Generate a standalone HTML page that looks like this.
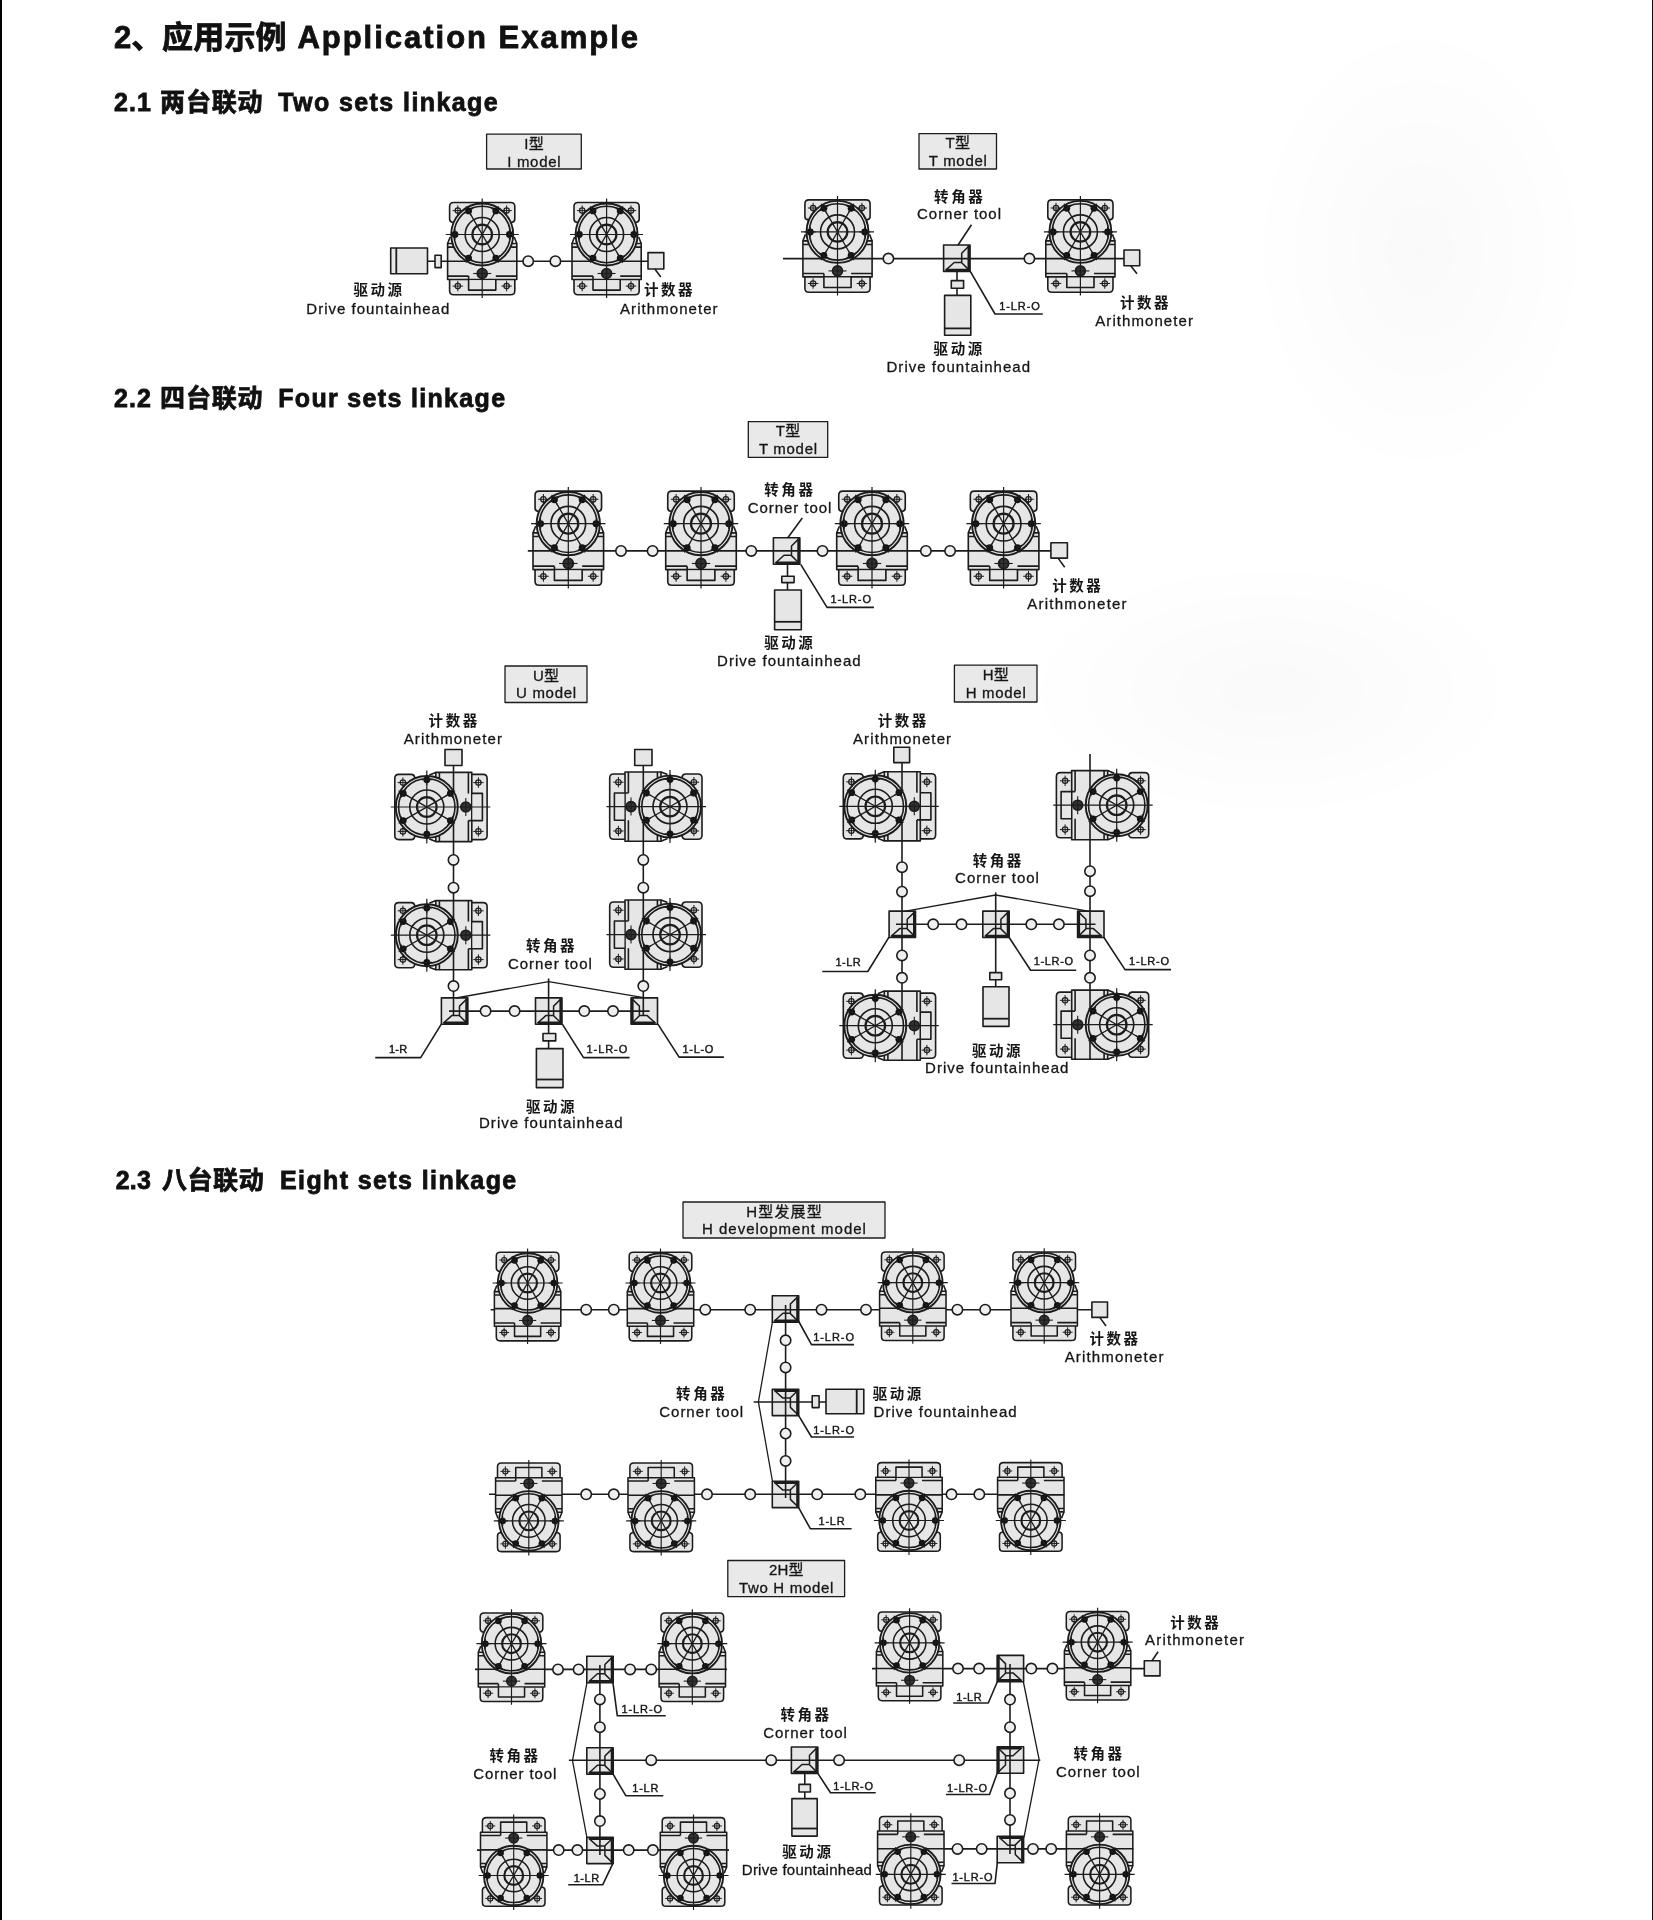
<!DOCTYPE html>
<html lang="zh"><head><meta charset="utf-8"><title>应用示例 Application Example</title>
<style>
html,body{margin:0;padding:0;background:#fff}
body{width:1653px;height:1920px;position:relative;overflow:hidden;font-family:'Liberation Sans','Noto Sans CJK SC',sans-serif}
.bl{position:absolute;left:0;top:0;width:1.6px;height:1920px;background:#000}
.br{position:absolute;right:0;top:0;width:1.3px;height:1920px;background:#111}
text.b{stroke:#161616;stroke-width:.3px}
text.c{stroke:#161616;stroke-width:.4px}
text.h{stroke:#111;stroke-width:.8px;fill:#111}
svg{position:absolute;left:0;top:0;display:block;filter:grayscale(1) blur(.4px)}
</style></head><body>
<svg width="1653" height="1920" viewBox="0 0 1653 1920"><defs><radialGradient id="sm"><stop offset="0" stop-color="#000" stop-opacity=".022"/><stop offset="1" stop-color="#000" stop-opacity="0"/></radialGradient><g id="drv" stroke-width="1.6"><path d="M-32.6,-15.5V-28Q-32.6,-32 -28.6,-32H28.6Q32.6,-32 32.6,-28V-15.5Q32.6,-12.5 29.3,-12L27,-10H-27L-29.3,-12Q-32.6,-12.5 -32.6,-15.5Z" fill="#e6e6e6"/><path d="M-32.6,44V56.3Q-32.6,60.3 -28.6,60.3H28.6Q32.6,60.3 32.6,56.3V44Z" fill="#e6e6e6"/><path d="M-34.6,9H34.6V45H-34.6Z" fill="#e6e6e6"/><path d="M-34.6,12.6H-29M29,12.6H34.6M-34.6,41.6H-13.6M13.6,41.6H34.6M-32,2.5L-34.6,9M32,2.5L34.6,9" fill="none"/><path d="M-13.6,42.3V55.6H13.6V45.7H-13.6" fill="#e6e6e6" stroke="none"/><path d="M-13.6,41.6V55.6H13.6V45" fill="none"/><path d="M-34.6,26.7H34.6" fill="none"/><circle cx="-24.4" cy="-23.9" r="2.7" fill="none" stroke-width="1.2"/><path d="M-29.599999999999998,-23.9H-19.2M-24.4,-29.099999999999998V-18.7" stroke-width="1"/><circle cx="24.4" cy="-23.9" r="2.7" fill="none" stroke-width="1.2"/><path d="M19.2,-23.9H29.599999999999998M24.4,-29.099999999999998V-18.7" stroke-width="1"/><circle cx="-24.4" cy="51.6" r="2.7" fill="none" stroke-width="1.2"/><path d="M-29.599999999999998,51.6H-19.2M-24.4,46.4V56.800000000000004" stroke-width="1"/><circle cx="24.4" cy="51.6" r="2.7" fill="none" stroke-width="1.2"/><path d="M19.2,51.6H29.599999999999998M24.4,46.4V56.800000000000004" stroke-width="1"/><circle cx="0" cy="39" r="5" fill="#333"/><path d="M-9,39H9" stroke-width="1.1"/><circle r="31" fill="#e6e6e6" stroke-width="1.9"/><circle r="28.2" fill="none" stroke-width="1.6"/><circle r="17" fill="none" stroke-width="1.6"/><circle r="9.8" fill="none" stroke-width="2.2"/><path d="M0,-36V63.5M-36.5,0H36.5" stroke-width="1.2"/><path d="M-13.60,-23.56L13.60,23.56M13.60,-23.56L-13.60,23.56" stroke-width="1.3"/><circle cx="27.20" cy="0.00" r="3.4" fill="#111" stroke="none"/><path d="M21.80,0.00L32.60,0.00M27.20,-5.20L27.20,5.20" stroke-width="1.1"/><circle cx="13.60" cy="23.56" r="3.4" fill="#111" stroke="none"/><path d="M10.90,18.88L16.30,28.23M18.10,20.96L9.10,26.16" stroke-width="1.1"/><circle cx="-13.60" cy="23.56" r="3.4" fill="#111" stroke="none"/><path d="M-10.90,18.88L-16.30,28.23M-9.10,26.16L-18.10,20.96" stroke-width="1.1"/><circle cx="-27.20" cy="0.00" r="3.4" fill="#111" stroke="none"/><path d="M-21.80,0.00L-32.60,0.00M-27.20,5.20L-27.20,-5.20" stroke-width="1.1"/><circle cx="-13.60" cy="-23.56" r="3.4" fill="#111" stroke="none"/><path d="M-10.90,-18.88L-16.30,-28.23M-18.10,-20.96L-9.10,-26.16" stroke-width="1.1"/><circle cx="13.60" cy="-23.56" r="3.4" fill="#111" stroke="none"/><path d="M10.90,-18.88L16.30,-28.23M9.10,-26.16L18.10,-20.96" stroke-width="1.1"/></g><g id="ct" stroke-width="1.6"><rect x="-13.2" y="-13.2" width="26.4" height="26.4" fill="#e6e6e6"/><path d="M12.4,-12.4L4.9,-5V4.6L12.6,12.2M-11.3,12.2L-2.6,4.3H4.9" fill="none" stroke-width="1.5"/><path d="M12.1,-12.6V13M-10.8,11.9H13" fill="none" stroke-width="2.8"/></g></defs><ellipse cx="1270" cy="690" rx="250" ry="130" fill="url(#sm)"/><ellipse cx="1420" cy="250" rx="170" ry="230" fill="url(#sm)"/><g stroke="#1c1c1c" fill="none" stroke-linejoin="round"><use href="#ct" transform="translate(956.8,258.2)"/>
<use href="#ct" transform="translate(786.6,551.0)"/>
<use href="#ct" transform="translate(454.6,1011.1)"/>
<use href="#ct" transform="translate(548.7,1011.1)"/>
<use href="#ct" transform="translate(644.3,1011.1) scale(-1,1)"/>
<use href="#ct" transform="translate(902.3,924.3)"/>
<use href="#ct" transform="translate(996.0,924.3)"/>
<use href="#ct" transform="translate(1090.8,924.3) scale(-1,1)"/>
<use href="#ct" transform="translate(785.5,1309.0)"/>
<use href="#ct" transform="translate(785.5,1402.4) scale(1,-1)"/>
<use href="#ct" transform="translate(785.5,1494.4) scale(1,-1)"/>
<use href="#ct" transform="translate(600.0,1669.5)"/>
<use href="#ct" transform="translate(600.0,1761.0)"/>
<use href="#ct" transform="translate(600.0,1850.4) scale(1,-1)"/>
<use href="#ct" transform="translate(804.6,1760.2)"/>
<use href="#ct" transform="translate(1010.4,1668.6) scale(-1,1)"/>
<use href="#ct" transform="translate(1010.4,1760.0) scale(-1,-1)"/>
<use href="#ct" transform="translate(1010.4,1849.5) scale(1,-1)"/><rect x="486.6" y="134.2" width="94.7" height="34.8" fill="#e9e9e9" stroke-width="1.3"/>
<path d="M427.5,261.2L648.0,261.2" stroke-width="1.6"/>
<rect x="390.7" y="248.0" width="36.8" height="25.8" fill="#e6e6e6" stroke-width="1.6"/>
<path d="M396.3,248.0L396.3,273.8" stroke-width="1.8"/>
<rect x="435.0" y="255.3" width="6.2" height="12.3" fill="#e6e6e6" stroke-width="1.6"/>
<use href="#drv" transform="translate(482.2,234.5)"/>
<use href="#drv" transform="translate(606.6,234.5)"/>
<circle cx="528.2" cy="261.2" r="5.2" fill="#efefef" stroke-width="1.6"/>
<circle cx="555.4" cy="261.2" r="5.2" fill="#efefef" stroke-width="1.6"/>
<rect x="648.0" y="252.6" width="15.8" height="16.4" fill="#e6e6e6" stroke-width="1.6"/>
<path d="M654.8,269.0L660.8,277.0" stroke-width="1.6"/>
<rect x="919.0" y="133.6" width="77.5" height="35.4" fill="#e9e9e9" stroke-width="1.3"/>
<path d="M783.0,258.6L1124.0,258.6" stroke-width="1.6"/>
<use href="#drv" transform="translate(837.5,231.9)"/>
<use href="#drv" transform="translate(1080.4,231.9)"/>
<circle cx="888.4" cy="258.6" r="5.2" fill="#efefef" stroke-width="1.6"/>
<circle cx="1029.4" cy="258.6" r="5.2" fill="#efefef" stroke-width="1.6"/>
<path d="M957.0,271.0L957.0,296.0" stroke-width="1.6"/>
<path d="M971.5,224.8L957.9,245.2" stroke-width="1.6"/>
<rect x="951.3" y="280.6" width="12.3" height="7.6" fill="#e6e6e6" stroke-width="1.6"/>
<rect x="944.6" y="295.4" width="26.2" height="39.8" fill="#e6e6e6" stroke-width="1.6"/>
<path d="M944.6,328.4L970.8,328.4" stroke-width="1.8"/>
<path d="M970.0,270.8L995.0,314.0L1042.8,314.0" fill="none" stroke-width="1.6"/>
<rect x="1124.0" y="250.0" width="15.7" height="15.7" fill="#e6e6e6" stroke-width="1.6"/>
<path d="M1130.7,265.7L1137.0,273.8" stroke-width="1.6"/>
<rect x="748.3" y="421.7" width="79.4" height="35.6" fill="#e9e9e9" stroke-width="1.3"/>
<path d="M527.8,550.9L1051.0,550.9" stroke-width="1.6"/>
<use href="#drv" transform="translate(568.3,523.7) scale(1.02)"/>
<use href="#drv" transform="translate(701.0,523.7) scale(1.02)"/>
<use href="#drv" transform="translate(872.0,523.7) scale(1.02)"/>
<use href="#drv" transform="translate(1003.6,523.7) scale(1.02)"/>
<circle cx="621.0" cy="550.9" r="5.2" fill="#efefef" stroke-width="1.6"/>
<circle cx="652.6" cy="550.9" r="5.2" fill="#efefef" stroke-width="1.6"/>
<circle cx="751.3" cy="550.9" r="5.2" fill="#efefef" stroke-width="1.6"/>
<circle cx="822.5" cy="550.9" r="5.2" fill="#efefef" stroke-width="1.6"/>
<circle cx="925.9" cy="550.9" r="5.2" fill="#efefef" stroke-width="1.6"/>
<circle cx="950.1" cy="550.9" r="5.2" fill="#efefef" stroke-width="1.6"/>
<path d="M787.5,564.0L787.5,590.0" stroke-width="1.6"/>
<path d="M802.3,518.0L788.0,537.5" stroke-width="1.6"/>
<rect x="781.8" y="576.2" width="12.3" height="6.4" fill="#e6e6e6" stroke-width="1.6"/>
<rect x="774.6" y="590.0" width="26.7" height="39.7" fill="#e6e6e6" stroke-width="1.6"/>
<path d="M774.6,621.8L801.3,621.8" stroke-width="1.8"/>
<path d="M800.7,564.3L827.0,607.4L874.0,607.4" fill="none" stroke-width="1.6"/>
<rect x="1050.9" y="542.7" width="16.5" height="15.4" fill="#e6e6e6" stroke-width="1.6"/>
<path d="M1058.1,558.1L1064.7,567.3" stroke-width="1.6"/>
<rect x="505.0" y="666.0" width="82.0" height="36.5" fill="#e9e9e9" stroke-width="1.3"/>
<path d="M453.5,765.5L453.5,1015.1" stroke-width="1.6"/>
<path d="M643.3,765.5L643.3,1015.1" stroke-width="1.6"/>
<rect x="445.0" y="749.5" width="17.0" height="16.0" fill="#e6e6e6" stroke-width="1.6"/>
<rect x="634.7" y="749.5" width="17.3" height="16.0" fill="#e6e6e6" stroke-width="1.6"/>
<use href="#drv" transform="translate(426.8,807.0) rotate(-90)"/>
<use href="#drv" transform="translate(670.0,806.6) rotate(90)"/>
<use href="#drv" transform="translate(426.8,935.2) rotate(-90)"/>
<use href="#drv" transform="translate(670.0,934.6) rotate(90)"/>
<circle cx="453.5" cy="859.9" r="5.2" fill="#efefef" stroke-width="1.6"/>
<circle cx="643.3" cy="859.9" r="5.2" fill="#efefef" stroke-width="1.6"/>
<circle cx="453.5" cy="887.7" r="5.2" fill="#efefef" stroke-width="1.6"/>
<circle cx="643.3" cy="887.7" r="5.2" fill="#efefef" stroke-width="1.6"/>
<circle cx="453.5" cy="986.1" r="5.2" fill="#efefef" stroke-width="1.6"/>
<circle cx="643.3" cy="986.1" r="5.2" fill="#efefef" stroke-width="1.6"/>
<path d="M449.0,1011.1L649.6,1011.1" stroke-width="1.6"/>
<path d="M548.6,978.5L548.6,1048.6" stroke-width="1.6"/>
<circle cx="485.6" cy="1011.1" r="5.2" fill="#efefef" stroke-width="1.6"/>
<circle cx="514.6" cy="1011.1" r="5.2" fill="#efefef" stroke-width="1.6"/>
<circle cx="584.3" cy="1011.1" r="5.2" fill="#efefef" stroke-width="1.6"/>
<circle cx="613.0" cy="1011.1" r="5.2" fill="#efefef" stroke-width="1.6"/>
<path d="M456.0,998.0L548.6,981.6L643.7,997.6" fill="none" stroke-width="1.4"/>
<rect x="543.0" y="1033.5" width="12.7" height="7.4" fill="#e6e6e6" stroke-width="1.6"/>
<rect x="536.4" y="1048.6" width="26.6" height="39.0" fill="#e6e6e6" stroke-width="1.6"/>
<path d="M536.4,1079.5L563.0,1079.5" stroke-width="1.8"/>
<path d="M441.3,1024.1L420.7,1057.6L375.2,1057.6" fill="none" stroke-width="1.6"/>
<path d="M562.3,1024.1L583.5,1057.6L629.6,1057.6" fill="none" stroke-width="1.6"/>
<path d="M657.9,1024.1L679.1,1057.1L723.9,1057.1" fill="none" stroke-width="1.6"/>
<rect x="954.4" y="665.2" width="82.6" height="36.8" fill="#e9e9e9" stroke-width="1.3"/>
<path d="M902.0,762.6L902.0,1060.0" stroke-width="1.6"/>
<path d="M1090.0,753.9L1090.0,1060.0" stroke-width="1.6"/>
<rect x="893.8" y="747.3" width="15.8" height="15.3" fill="#e6e6e6" stroke-width="1.6"/>
<use href="#drv" transform="translate(875.3,806.3) rotate(-90)"/>
<use href="#drv" transform="translate(1116.7,805.2) rotate(90)"/>
<use href="#drv" transform="translate(875.3,1025.7) rotate(-90)"/>
<use href="#drv" transform="translate(1116.7,1024.7) rotate(90)"/>
<circle cx="902.0" cy="867.2" r="5.2" fill="#efefef" stroke-width="1.6"/>
<circle cx="902.0" cy="891.7" r="5.2" fill="#efefef" stroke-width="1.6"/>
<circle cx="902.0" cy="955.4" r="5.2" fill="#efefef" stroke-width="1.6"/>
<circle cx="902.0" cy="977.8" r="5.2" fill="#efefef" stroke-width="1.6"/>
<circle cx="1090.0" cy="871.2" r="5.2" fill="#efefef" stroke-width="1.6"/>
<circle cx="1090.0" cy="891.2" r="5.2" fill="#efefef" stroke-width="1.6"/>
<circle cx="1090.0" cy="955.4" r="5.2" fill="#efefef" stroke-width="1.6"/>
<circle cx="1090.0" cy="977.8" r="5.2" fill="#efefef" stroke-width="1.6"/>
<path d="M896.0,924.3L1095.5,924.3" stroke-width="1.6"/>
<path d="M995.7,892.4L995.7,986.8" stroke-width="1.6"/>
<circle cx="933.2" cy="924.3" r="5.2" fill="#efefef" stroke-width="1.6"/>
<circle cx="961.5" cy="924.3" r="5.2" fill="#efefef" stroke-width="1.6"/>
<circle cx="1031.3" cy="924.3" r="5.2" fill="#efefef" stroke-width="1.6"/>
<circle cx="1058.9" cy="924.3" r="5.2" fill="#efefef" stroke-width="1.6"/>
<path d="M904.4,911.3L995.7,895.0L1089.6,911.3" fill="none" stroke-width="1.3"/>
<rect x="989.8" y="972.6" width="11.8" height="7.2" fill="#e6e6e6" stroke-width="1.6"/>
<rect x="983.0" y="986.8" width="26.0" height="39.6" fill="#e6e6e6" stroke-width="1.6"/>
<path d="M983.0,1018.7L1009.0,1018.7" stroke-width="1.8"/>
<path d="M889.0,937.2L867.8,971.5L822.3,971.5" fill="none" stroke-width="1.6"/>
<path d="M1009.0,937.2L1030.6,970.3L1076.2,970.3" fill="none" stroke-width="1.6"/>
<path d="M1103.8,937.2L1125.0,969.6L1171.0,969.6" fill="none" stroke-width="1.6"/>
<rect x="683.0" y="1202.0" width="202.0" height="36.0" fill="#e9e9e9" stroke-width="1.3"/>
<path d="M490.6,1309.7L1092.0,1309.7" stroke-width="1.6"/>
<use href="#drv" transform="translate(527.6,1283.0) scale(0.96)"/>
<use href="#drv" transform="translate(660.5,1283.0) scale(0.96)"/>
<use href="#drv" transform="translate(912.8,1282.7) scale(0.96)"/>
<use href="#drv" transform="translate(1044.2,1282.7) scale(0.96)"/>
<circle cx="586.2" cy="1309.7" r="5.2" fill="#efefef" stroke-width="1.6"/>
<circle cx="613.8" cy="1309.7" r="5.2" fill="#efefef" stroke-width="1.6"/>
<circle cx="705.3" cy="1309.7" r="5.2" fill="#efefef" stroke-width="1.6"/>
<circle cx="750.2" cy="1309.7" r="5.2" fill="#efefef" stroke-width="1.6"/>
<circle cx="821.5" cy="1309.7" r="5.2" fill="#efefef" stroke-width="1.6"/>
<circle cx="866.0" cy="1309.7" r="5.2" fill="#efefef" stroke-width="1.6"/>
<circle cx="957.4" cy="1309.7" r="5.2" fill="#efefef" stroke-width="1.6"/>
<circle cx="985.2" cy="1309.7" r="5.2" fill="#efefef" stroke-width="1.6"/>
<path d="M785.6,1305.0L785.6,1498.0" stroke-width="1.6"/>
<circle cx="785.6" cy="1340.3" r="5.2" fill="#efefef" stroke-width="1.6"/>
<circle cx="785.6" cy="1367.4" r="5.2" fill="#efefef" stroke-width="1.6"/>
<circle cx="785.6" cy="1433.5" r="5.2" fill="#efefef" stroke-width="1.6"/>
<circle cx="785.6" cy="1460.9" r="5.2" fill="#efefef" stroke-width="1.6"/>
<path d="M753.7,1402.0L826.2,1402.0" stroke-width="1.6"/>
<rect x="812.2" y="1395.8" width="6.9" height="11.8" fill="#e6e6e6" stroke-width="1.6"/>
<rect x="826.0" y="1389.2" width="37.8" height="24.5" fill="#e6e6e6" stroke-width="1.6"/>
<path d="M856.7,1389.2L856.7,1413.7" stroke-width="1.8"/>
<path d="M772.6,1321.0L758.4,1401.8L772.6,1482.0" fill="none" stroke-width="1.3"/>
<path d="M798.5,1321.0L811.5,1344.6L854.0,1344.6" fill="none" stroke-width="1.6"/>
<path d="M798.5,1415.3L811.5,1437.0L854.0,1437.0" fill="none" stroke-width="1.6"/>
<rect x="1091.9" y="1302.0" width="15.6" height="15.4" fill="#e6e6e6" stroke-width="1.6"/>
<path d="M1099.7,1317.4L1106.0,1326.0" stroke-width="1.6"/>
<path d="M489.0,1494.3L1064.3,1494.3" stroke-width="1.6"/>
<use href="#drv" transform="translate(528.8,1520.9) scale(1,-1) scale(0.96)"/>
<use href="#drv" transform="translate(661.2,1520.9) scale(1,-1) scale(0.96)"/>
<use href="#drv" transform="translate(909.0,1520.5) scale(1,-1) scale(0.96)"/>
<use href="#drv" transform="translate(1030.8,1520.5) scale(1,-1) scale(0.96)"/>
<circle cx="586.2" cy="1494.3" r="5.2" fill="#efefef" stroke-width="1.6"/>
<circle cx="613.8" cy="1494.3" r="5.2" fill="#efefef" stroke-width="1.6"/>
<circle cx="707.0" cy="1494.3" r="5.2" fill="#efefef" stroke-width="1.6"/>
<circle cx="750.2" cy="1494.3" r="5.2" fill="#efefef" stroke-width="1.6"/>
<circle cx="817.2" cy="1494.3" r="5.2" fill="#efefef" stroke-width="1.6"/>
<circle cx="860.3" cy="1494.3" r="5.2" fill="#efefef" stroke-width="1.6"/>
<circle cx="951.5" cy="1494.3" r="5.2" fill="#efefef" stroke-width="1.6"/>
<circle cx="979.3" cy="1494.3" r="5.2" fill="#efefef" stroke-width="1.6"/>
<path d="M798.5,1507.4L810.3,1528.7L851.6,1528.7" fill="none" stroke-width="1.6"/>
<rect x="727.8" y="1560.5" width="116.8" height="36.1" fill="#e9e9e9" stroke-width="1.3"/>
<path d="M475.0,1669.4L727.0,1669.4" stroke-width="1.6"/>
<path d="M872.0,1668.6L1144.3,1668.6" stroke-width="1.6"/>
<use href="#drv" transform="translate(511.5,1643.7) scale(0.96)"/>
<use href="#drv" transform="translate(692.3,1643.7) scale(0.96)"/>
<use href="#drv" transform="translate(909.6,1642.8) scale(0.96)"/>
<use href="#drv" transform="translate(1097.6,1642.2) scale(0.96)"/>
<circle cx="558.0" cy="1669.4" r="5.2" fill="#efefef" stroke-width="1.6"/>
<circle cx="578.6" cy="1669.4" r="5.2" fill="#efefef" stroke-width="1.6"/>
<circle cx="630.1" cy="1669.4" r="5.2" fill="#efefef" stroke-width="1.6"/>
<circle cx="651.2" cy="1669.4" r="5.2" fill="#efefef" stroke-width="1.6"/>
<circle cx="958.0" cy="1668.6" r="5.2" fill="#efefef" stroke-width="1.6"/>
<circle cx="979.1" cy="1668.6" r="5.2" fill="#efefef" stroke-width="1.6"/>
<circle cx="1031.3" cy="1668.6" r="5.2" fill="#efefef" stroke-width="1.6"/>
<circle cx="1052.4" cy="1668.6" r="5.2" fill="#efefef" stroke-width="1.6"/>
<path d="M477.0,1850.1L729.0,1850.1" stroke-width="1.6"/>
<path d="M884.2,1848.9L1133.4,1848.9" stroke-width="1.6"/>
<use href="#drv" transform="translate(513.7,1875.5) scale(1,-1) scale(0.96)"/>
<use href="#drv" transform="translate(693.5,1875.5) scale(1,-1) scale(0.96)"/>
<use href="#drv" transform="translate(910.8,1874.3) scale(1,-1) scale(0.96)"/>
<use href="#drv" transform="translate(1099.6,1874.3) scale(1,-1) scale(0.96)"/>
<circle cx="558.7" cy="1850.1" r="5.2" fill="#efefef" stroke-width="1.6"/>
<circle cx="577.4" cy="1850.1" r="5.2" fill="#efefef" stroke-width="1.6"/>
<circle cx="628.7" cy="1850.1" r="5.2" fill="#efefef" stroke-width="1.6"/>
<circle cx="652.9" cy="1850.1" r="5.2" fill="#efefef" stroke-width="1.6"/>
<circle cx="957.5" cy="1848.9" r="5.2" fill="#efefef" stroke-width="1.6"/>
<circle cx="981.7" cy="1848.9" r="5.2" fill="#efefef" stroke-width="1.6"/>
<circle cx="1033.0" cy="1848.9" r="5.2" fill="#efefef" stroke-width="1.6"/>
<circle cx="1051.2" cy="1848.9" r="5.2" fill="#efefef" stroke-width="1.6"/>
<path d="M599.9,1665.0L599.9,1855.0" stroke-width="1.6"/>
<path d="M1010.0,1664.0L1010.0,1854.0" stroke-width="1.6"/>
<circle cx="599.9" cy="1699.4" r="5.2" fill="#efefef" stroke-width="1.6"/>
<circle cx="599.9" cy="1727.2" r="5.2" fill="#efefef" stroke-width="1.6"/>
<circle cx="599.9" cy="1794.0" r="5.2" fill="#efefef" stroke-width="1.6"/>
<circle cx="599.9" cy="1821.1" r="5.2" fill="#efefef" stroke-width="1.6"/>
<circle cx="1010.0" cy="1699.6" r="5.2" fill="#efefef" stroke-width="1.6"/>
<circle cx="1010.0" cy="1727.2" r="5.2" fill="#efefef" stroke-width="1.6"/>
<circle cx="1010.0" cy="1793.3" r="5.2" fill="#efefef" stroke-width="1.6"/>
<circle cx="1010.0" cy="1819.9" r="5.2" fill="#efefef" stroke-width="1.6"/>
<path d="M568.9,1760.2L1040.3,1760.2" stroke-width="1.6"/>
<circle cx="651.2" cy="1760.2" r="5.2" fill="#efefef" stroke-width="1.6"/>
<circle cx="771.2" cy="1760.2" r="5.2" fill="#efefef" stroke-width="1.6"/>
<circle cx="839.1" cy="1760.2" r="5.2" fill="#efefef" stroke-width="1.6"/>
<circle cx="959.2" cy="1760.2" r="5.2" fill="#efefef" stroke-width="1.6"/>
<path d="M804.8,1773.0L804.8,1799.0" stroke-width="1.6"/>
<rect x="1144.3" y="1660.7" width="15.7" height="15.2" fill="#e6e6e6" stroke-width="1.6"/>
<path d="M1158.1,1651.7L1152.0,1660.7" stroke-width="1.6"/>
<path d="M587.0,1682.4L572.5,1760.6L587.0,1838.0" fill="none" stroke-width="1.3"/>
<path d="M612.9,1682.4L617.3,1715.8L665.7,1715.8" fill="none" stroke-width="1.6"/>
<path d="M612.9,1773.9L625.8,1795.7L663.3,1795.7" fill="none" stroke-width="1.6"/>
<path d="M612.9,1863.4L602.8,1884.7L568.2,1884.7" fill="none" stroke-width="1.6"/>
<rect x="799.0" y="1784.4" width="11.4" height="7.6" fill="#e6e6e6" stroke-width="1.6"/>
<rect x="791.9" y="1798.6" width="25.3" height="37.5" fill="#e6e6e6" stroke-width="1.6"/>
<path d="M791.9,1828.5L817.2,1828.5" stroke-width="1.8"/>
<path d="M817.2,1772.4L830.5,1792.8L875.7,1792.8" fill="none" stroke-width="1.6"/>
<path d="M1023.3,1681.5L1039.1,1759.4L1024.0,1837.3" fill="none" stroke-width="1.3"/>
<path d="M997.4,1681.5L988.3,1703.0L953.2,1703.0" fill="none" stroke-width="1.6"/>
<path d="M997.4,1772.7L989.5,1794.5L945.9,1794.5" fill="none" stroke-width="1.6"/>
<path d="M997.4,1862.2L995.0,1883.5L951.5,1883.5" fill="none" stroke-width="1.6"/></g><g fill="#161616" font-family="'Liberation Sans','Noto Sans CJK SC',sans-serif"><text x="114.0" y="48.0" font-size="31" font-weight="700" class="h">2、</text>
<text x="162.0" y="48.0" font-size="31" font-weight="700" letter-spacing="0.200" class="h">应用示例</text>
<text x="297.4" y="48.0" font-size="31" font-weight="700" letter-spacing="1.983" class="h">Application Example</text>
<text x="114.0" y="110.7" font-size="25" font-weight="700" letter-spacing="1.067" class="h">2.1</text>
<text x="160.1" y="110.7" font-size="25" font-weight="700" letter-spacing="0.828" class="h">两台联动</text>
<text x="278.2" y="110.7" font-size="25" font-weight="700" letter-spacing="1.419" class="h">Two sets linkage</text>
<text x="114.0" y="406.9" font-size="25" font-weight="700" letter-spacing="1.067" class="h">2.2</text>
<text x="160.1" y="406.9" font-size="25" font-weight="700" letter-spacing="0.828" class="h">四台联动</text>
<text x="278.2" y="406.9" font-size="25" font-weight="700" letter-spacing="1.330" class="h">Four sets linkage</text>
<text x="115.8" y="1188.7" font-size="25" font-weight="700" letter-spacing="0.167" class="h">2.3</text>
<text x="162.0" y="1188.7" font-size="25" font-weight="700" letter-spacing="0.561" class="h">八台联动</text>
<text x="280.0" y="1188.7" font-size="25" font-weight="700" letter-spacing="1.390" class="h">Eight sets linkage</text>
<text x="524.3" y="148.9" font-size="15" letter-spacing="0.200" class="b">I型</text>
<text x="507.2" y="166.5" font-size="15" letter-spacing="0.700" class="b">I model</text>
<text x="353.4" y="295.1" font-size="14.5" font-weight="700" letter-spacing="2.550">驱动源</text>
<text x="306.3" y="313.8" font-size="15" letter-spacing="1.005" class="b">Drive fountainhead</text>
<text x="643.9" y="295.1" font-size="14.5" font-weight="700" letter-spacing="2.550">计数器</text>
<text x="620.0" y="313.8" font-size="15" letter-spacing="1.066" class="b">Arithmoneter</text>
<text x="945.6" y="148.3" font-size="15" letter-spacing="0.200" class="b">T型</text>
<text x="928.7" y="165.9" font-size="15" letter-spacing="0.700" class="b">T model</text>
<text x="999.2" y="309.6" font-size="11" letter-spacing="0.907" class="c">1-LR-O</text>
<text x="934.1" y="201.9" font-size="14.5" font-weight="700" letter-spacing="2.550">转角器</text>
<text x="917.0" y="219.4" font-size="15" letter-spacing="0.980" class="b">Corner tool</text>
<text x="1119.9" y="307.9" font-size="14.5" font-weight="700" letter-spacing="2.550">计数器</text>
<text x="1095.3" y="326.0" font-size="15" letter-spacing="1.066" class="b">Arithmoneter</text>
<text x="933.6" y="353.9" font-size="14.5" font-weight="700" letter-spacing="2.550">驱动源</text>
<text x="886.5" y="371.8" font-size="15" letter-spacing="1.034" class="b">Drive fountainhead</text>
<text x="775.8" y="436.4" font-size="15" letter-spacing="0.200" class="b">T型</text>
<text x="758.9" y="454.0" font-size="15" letter-spacing="0.700" class="b">T model</text>
<text x="830.4" y="603.4" font-size="11" letter-spacing="0.908" class="c">1-LR-O</text>
<text x="764.3" y="495.1" font-size="14.5" font-weight="700" letter-spacing="2.550">转角器</text>
<text x="747.8" y="512.8" font-size="15" letter-spacing="0.930" class="b">Corner tool</text>
<text x="1052.2" y="590.7" font-size="14.5" font-weight="700" letter-spacing="2.550">计数器</text>
<text x="1027.3" y="608.5" font-size="15" letter-spacing="1.220" class="b">Arithmoneter</text>
<text x="764.2" y="648.3" font-size="14.5" font-weight="700" letter-spacing="2.550">驱动源</text>
<text x="717.0" y="666.0" font-size="15" letter-spacing="1.046" class="b">Drive fountainhead</text>
<text x="533.0" y="680.7" font-size="15" letter-spacing="0.200" class="b">U型</text>
<text x="516.0" y="698.3" font-size="15" letter-spacing="0.700" class="b">U model</text>
<text x="428.6" y="726.4" font-size="14.5" font-weight="700" letter-spacing="2.550">计数器</text>
<text x="403.7" y="743.8" font-size="15" letter-spacing="1.139" class="b">Arithmoneter</text>
<text x="388.9" y="1052.9" font-size="11" letter-spacing="0.333" class="c">1-R</text>
<text x="586.6" y="1052.9" font-size="11" letter-spacing="0.908" class="c">1-LR-O</text>
<text x="682.6" y="1052.5" font-size="11" letter-spacing="0.644" class="c">1-L-O</text>
<text x="525.9" y="951.3" font-size="14.5" font-weight="700" letter-spacing="2.550">转角器</text>
<text x="508.0" y="969.1" font-size="15" letter-spacing="0.960" class="b">Corner tool</text>
<text x="525.9" y="1111.7" font-size="14.5" font-weight="700" letter-spacing="2.550">驱动源</text>
<text x="479.0" y="1128.4" font-size="15" letter-spacing="1.034" class="b">Drive fountainhead</text>
<text x="982.7" y="679.9" font-size="15" letter-spacing="0.200" class="b">H型</text>
<text x="965.7" y="697.5" font-size="15" letter-spacing="0.700" class="b">H model</text>
<text x="877.7" y="725.9" font-size="14.5" font-weight="700" letter-spacing="2.550">计数器</text>
<text x="853.0" y="743.8" font-size="15" letter-spacing="1.111" class="b">Arithmoneter</text>
<text x="835.5" y="966.4" font-size="11" letter-spacing="0.452" class="c">1-LR</text>
<text x="1033.7" y="965.3" font-size="11" letter-spacing="0.667" class="c">1-LR-O</text>
<text x="1129.0" y="964.6" font-size="11" letter-spacing="0.807" class="c">1-LR-O</text>
<text x="972.7" y="865.7" font-size="14.5" font-weight="700" letter-spacing="2.550">转角器</text>
<text x="955.1" y="883.0" font-size="15" letter-spacing="0.960" class="b">Corner tool</text>
<text x="971.9" y="1056.3" font-size="14.5" font-weight="700" letter-spacing="2.550">驱动源</text>
<text x="925.1" y="1073.4" font-size="15" letter-spacing="1.022" class="b">Drive fountainhead</text>
<text x="746.2" y="1216.7" font-size="15" letter-spacing="1.200" class="b">H型发展型</text>
<text x="702.0" y="1234.3" font-size="15" letter-spacing="1.000" class="b">H development model</text>
<text x="813.2" y="1341.0" font-size="11" letter-spacing="0.947" class="c">1-LR-O</text>
<text x="813.2" y="1433.7" font-size="11" letter-spacing="0.947" class="c">1-LR-O</text>
<text x="1089.5" y="1344.4" font-size="14.5" font-weight="700" letter-spacing="2.550">计数器</text>
<text x="1064.7" y="1362.3" font-size="15" letter-spacing="1.166" class="b">Arithmoneter</text>
<text x="872.7" y="1399.4" font-size="14.5" font-weight="700" letter-spacing="2.550">驱动源</text>
<text x="873.6" y="1416.5" font-size="15" letter-spacing="1.005" class="b">Drive fountainhead</text>
<text x="676.1" y="1399.4" font-size="14.5" font-weight="700" letter-spacing="2.550">转角器</text>
<text x="659.3" y="1416.5" font-size="15" letter-spacing="0.960" class="b">Corner tool</text>
<text x="818.6" y="1525.2" font-size="11" letter-spacing="0.719" class="c">1-LR</text>
<text x="768.9" y="1575.2" font-size="15" letter-spacing="0.200" class="b">2H型</text>
<text x="738.9" y="1592.8" font-size="15" letter-spacing="0.700" class="b">Two H model</text>
<text x="1170.2" y="1627.9" font-size="14.5" font-weight="700" letter-spacing="2.550">计数器</text>
<text x="1145.0" y="1645.2" font-size="15" letter-spacing="1.193" class="b">Arithmoneter</text>
<text x="489.5" y="1761.0" font-size="14.5" font-weight="700" letter-spacing="2.550">转角器</text>
<text x="473.3" y="1778.7" font-size="15" letter-spacing="0.880" class="b">Corner tool</text>
<text x="621.6" y="1713.0" font-size="11" letter-spacing="0.867" class="c">1-LR-O</text>
<text x="632.3" y="1792.1" font-size="11" letter-spacing="0.752" class="c">1-LR</text>
<text x="573.7" y="1881.7" font-size="11" letter-spacing="0.519" class="c">1-LR</text>
<text x="780.5" y="1720.1" font-size="14.5" font-weight="700" letter-spacing="2.550">转角器</text>
<text x="763.3" y="1737.5" font-size="15" letter-spacing="0.940" class="b">Corner tool</text>
<text x="833.3" y="1789.9" font-size="11" letter-spacing="0.728" class="c">1-LR-O</text>
<text x="782.3" y="1856.9" font-size="14.5" font-weight="700" letter-spacing="2.550">驱动源</text>
<text x="741.8" y="1874.7" font-size="15" letter-spacing="0.246" class="b">Drive fountainhead</text>
<text x="1073.4" y="1759.3" font-size="14.5" font-weight="700" letter-spacing="2.550">转角器</text>
<text x="1056.0" y="1776.8" font-size="15" letter-spacing="0.930" class="b">Corner tool</text>
<text x="956.3" y="1700.9" font-size="11" letter-spacing="0.519" class="c">1-LR</text>
<text x="947.1" y="1791.7" font-size="11" letter-spacing="0.767" class="c">1-LR-O</text>
<text x="952.4" y="1880.5" font-size="11" letter-spacing="0.828" class="c">1-LR-O</text></g></svg>
<div class="bl"></div><div class="br"></div>
</body></html>
